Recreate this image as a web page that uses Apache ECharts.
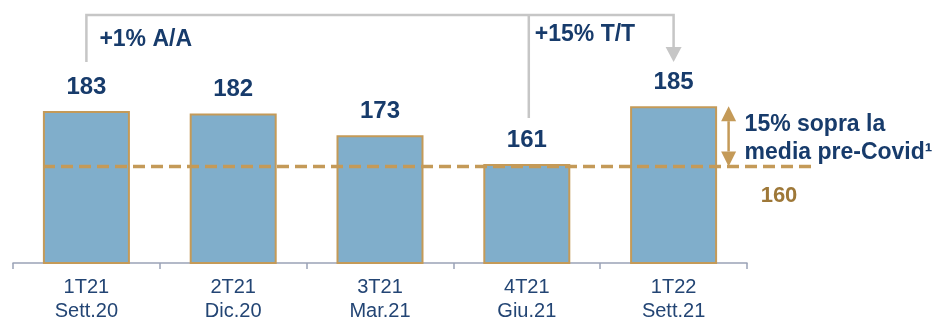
<!DOCTYPE html>
<html>
<head>
<meta charset="utf-8">
<script src="https://cdn.jsdelivr.net/npm/echarts@6/dist/echarts.min.js"></script>
<style>
  html, body { margin: 0; padding: 0; background: #ffffff; }
  #chart { width: 952px; height: 326px; }
</style>
</head>
<body>
<div id="chart"></div>
<script>
// Quarterly values with the pre-Covid average as a reference line
const quarters = ['1T21', '2T21', '3T21', '4T21', '1T22'];
const months = ['Sett.20', 'Dic.20', 'Mar.21', 'Giu.21', 'Sett.21'];
const values = [183, 182, 173, 161, 185];
const preCovidAvg = 160;
const yoyText = '+1% A/A';
const qoqText = '+15% T/T';
const noteLines = ['15% sopra la', 'media pre-Covid\u00B9'];

const NAVY = '#173B6B';
const AXIS_NAVY = '#234574';
const TAN = '#C49A58';
const TAN_DARK = '#9E7838';
const GREY = '#C6C6C6';
const FONT = '"Liberation Sans", Arial, sans-serif';

const chart = echarts.init(document.getElementById('chart'), null, { renderer: 'canvas' });

const option = {
  animation: false,
  grid: [
    { left: 13, right: 205, top: 70, bottom: 63 },
    { left: 43, right: 139, top: 70, bottom: 63 }
  ],
  xAxis: [
    {
      type: 'category', gridIndex: 0, data: quarters, boundaryGap: true,
      axisLine: { show: true, lineStyle: { color: '#9AA3B6', width: 1.5 } },
      axisTick: { show: true, interval: 0, alignWithLabel: false, length: 6, lineStyle: { color: '#9AA3B6', width: 1.5 } },
      axisLabel: {
        formatter: (v, i) => v + '\n' + months[i],
        color: AXIS_NAVY, fontFamily: FONT, fontSize: 20, lineHeight: 24, margin: 12
      }
    },
    { type: 'value', gridIndex: 1, min: 0, max: 1, show: false }
  ],
  yAxis: [
    { type: 'value', gridIndex: 0, min: 120, max: 200, show: false },
    { type: 'value', gridIndex: 1, min: 120, max: 200, show: false }
  ],
  series: [
    {
      type: 'bar', xAxisIndex: 0, yAxisIndex: 0, data: values, barWidth: 87,
      itemStyle: { color: '#80AECB', borderColor: TAN, borderWidth: 2 },
      label: {
        show: true, position: 'top', distance: 12, color: NAVY,
        fontFamily: FONT, fontWeight: 'bold', fontSize: 24
      }
    },
    {
      type: 'line', xAxisIndex: 1, yAxisIndex: 1, z: 5,
      data: [[0, preCovidAvg], [1, preCovidAvg]],
      symbol: 'none',
      lineStyle: { color: TAN, width: 3.5, type: [12, 6] }
    }
  ]
};
chart.setOption(option);

// Annotations anchored to the bar positions
const barPx = (i, v) => chart.convertToPixel({ gridIndex: 0 }, [i, v]);
const avgEnd = chart.convertToPixel({ gridIndex: 1 }, [1, preCovidAvg]);
const first = barPx(0, values[0]);
const prev = barPx(3, values[3]);
const last = barPx(4, values[4]);
const topY = 15;
const ax = last[0] + 55;
const avgY = barPx(4, preCovidAvg)[1];
const headH = 15, headW = 7.5;

const bold = (size) => 'bold ' + size + 'px ' + FONT;

chart.setOption({
  graphic: [
    { type: 'polyline', shape: { points: [[first[0], 62], [first[0], topY], [last[0], topY], [last[0], 47]] },
      style: { stroke: GREY, lineWidth: 2.5, fill: null } },
    { type: 'polygon', shape: { points: [[last[0] - 8, 47], [last[0] + 8, 47], [last[0], 62]] },
      style: { fill: GREY } },
    { type: 'polyline', shape: { points: [[prev[0] + 2, topY], [prev[0] + 2, 118]] },
      style: { stroke: GREY, lineWidth: 2.5, fill: null } },
    { type: 'text', x: first[0] + 13, y: 40,
      style: { text: yoyText, font: bold(23), fill: NAVY, verticalAlign: 'middle' } },
    { type: 'text', x: prev[0] + 8, y: 35,
      style: { text: qoqText, font: bold(23), fill: NAVY, verticalAlign: 'middle' } },
    // double-headed arrow between the latest value and the average
    { type: 'polyline', shape: { points: [[ax, last[1] + headH], [ax, avgY - headH]] },
      style: { stroke: TAN, lineWidth: 2.5, fill: null } },
    { type: 'polygon', shape: { points: [[ax - headW, last[1] + headH], [ax + headW, last[1] + headH], [ax, last[1]]] },
      style: { fill: TAN } },
    { type: 'polygon', shape: { points: [[ax - headW, avgY - headH], [ax + headW, avgY - headH], [ax, avgY]] },
      style: { fill: TAN } },
    { type: 'text', x: ax + 16, y: (last[1] + avgY) / 2 + 2,
      style: { text: noteLines.join('\n'), font: bold(23), lineHeight: 28, fill: NAVY, verticalAlign: 'middle' } },
    { type: 'text', x: avgEnd[0] - 34, y: avgEnd[1] + 29,
      style: { text: String(preCovidAvg), font: bold(22), fill: TAN_DARK, align: 'center', verticalAlign: 'middle' } }
  ]
});
</script>
</body>
</html>
